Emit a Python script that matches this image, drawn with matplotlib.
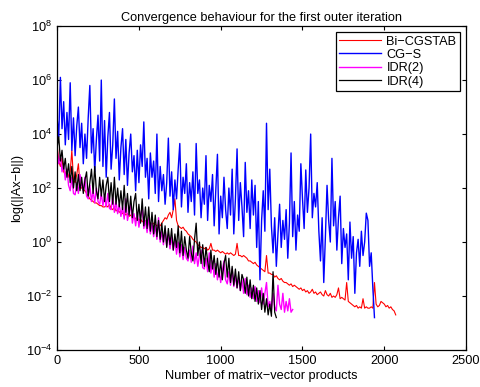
import numpy as np
import matplotlib
matplotlib.use("Agg")
from matplotlib import pyplot as plt
from matplotlib.ticker import NullLocator

plt.rcParams['font.family'] = ['Liberation Sans', 'DejaVu Sans']
plt.rcParams['mathtext.fontset'] = 'custom'
plt.rcParams['mathtext.rm'] = 'Liberation Sans'

# log10 of the residual norm, read every 10 matrix-vector products
bicgstab = [3.6, 3.0, 2.8, 3.1, 2.6, 2.5, 2.7, 2.4, 2.6, 3.4,
            2.3, 2.2, 2.5, 2.9, 2.1, 2.0, 1.95, 1.9, 1.8, 1.7,
            1.6, 1.55, 1.5, 1.45, 1.45, 1.4, 1.35, 1.35, 1.3, 1.3,
            1.35, 1.3, 1.4, 1.25, 1.2, 1.3, 1.15, 1.2, 1.1, 1.15,
            1.05, 1.1, 1.0, 1.05, 0.95, 1.0, 0.9, 0.95, 0.85, 0.9,
            0.8, 0.85, 0.75, 0.8, 0.75, 0.7, 0.75, 0.7, 0.65, 0.7,
            0.65, 0.6, 0.65, 0.6, 0.7, 0.8, 0.9, 0.85, 1.0, 1.1,
            0.9, 1.2, 1.6, 0.8, 0.6, 0.55, 0.5, 0.55, 0.45, 0.4,
            0.3, 0.25, 0.2, 0.1, 0.05, 0.0, -0.1, -0.15, -0.2, -0.2,
            -0.25, -0.2, -0.3, -0.25, -0.05, -0.3, -0.3, -0.35, -0.3, -0.35,
            -0.4, -0.35, -0.4, -0.45, -0.4, -0.45, -0.4, -0.45, -0.5, -0.45,
            -0.05, -0.5, -0.5, -0.55, -0.5, -0.55, -0.6, -0.7, -0.7, -0.75,
            -0.8, -0.75, -0.85, -0.9, -0.95, -1.0, -1.05, -1.1, -0.5, -1.15,
            -1.15, -1.2, -1.2, -1.3, -1.25, -1.35, -1.4, -1.35, -1.45, -1.5,
            -1.5, -1.55, -1.6, -1.55, -1.65, -1.6, -1.65, -1.7, -1.75, -1.7,
            -1.8, -1.75, -1.85, -1.8, -1.9, -1.85, -1.75, -1.9, -1.85, -1.95,
            -1.9, -1.85, -1.95, -2.0, -1.8, -1.95, -2.0, -1.9, -2.05, -2.0,
            -2.05, -1.95, -1.7, -2.1, -2.05, -2.1, -2.15, -1.5, -2.2, -2.25,
            -2.3, -2.35, -2.4, -2.35, -2.45, -2.4, -2.45, -2.1, -2.45, -2.4,
            -2.45, -2.45, -2.4, -2.45, -1.5, -2.3, -2.4, -2.35, -2.2, -2.25,
            -2.3, -2.4, -2.35, -2.45, -2.4, -2.5, -2.55, -2.7]

cgs = [4.6, 3.9, 6.1, 4.2, 5.2, 3.6, 4.8, 3.8, 5.9, 3.4,
       4.6, 3.2, 4.3, 5.0, 3.5, 4.4, 2.9, 4.0, 3.1, 4.6,
       5.8, 3.3, 4.2, 2.6, 3.8, 4.7, 3.0, 6.0, 2.8, 4.5,
       2.4, 3.9, 4.8, 2.7, 3.6, 5.3, 3.1, 4.1, 2.3, 3.5,
       4.2, 2.5, 3.8, 2.1, 3.3, 4.0, 2.6, 3.2, 1.9, 3.4,
       2.2, 3.6, 2.8, 4.45, 2.4, 3.1, 1.6, 3.3, 2.4, 3.0,
       1.8, 4.0, 1.5, 2.8, 1.9, 2.5, 1.4, 2.2, 3.85, 1.7,
       2.6, 1.2, 2.3, 1.6, 2.7, 3.65, 1.3, 2.4, 1.8, 2.9,
       1.1, 2.2, 1.5, 2.6, 1.0, 3.65, 1.8, 2.3, 0.9, 2.0,
       1.4, 3.2, 0.8, 2.1, 1.5, 2.5, 0.6, 1.9, 3.25, 0.3,
       1.7, 0.9, 2.4, 1.2, 0.5, 2.0, 1.0, 2.7, 0.3, 1.6,
       3.45, 0.8, 2.2, 1.3, 0.2, 2.95, 1.1, 1.9, 0.5, 2.3,
       1.0, 2.1, -0.2, 1.5, -1.4, 0.8, 1.9, 0.4, 4.4, 1.2,
       2.7, 0.6, -0.4, 0.9, -0.9, 0.3, 1.4, -0.2, 0.8, 0.1,
       1.2, -0.6, 0.7, 3.3, 0.2, 1.5, -0.3, 1.0, 0.4, 2.9,
       1.6, 0.5, 2.67, 1.1, 2.0, 4.0, 0.9, 1.8, 1.3, 2.2,
       0.4, -0.7, 0.9, -1.5, 0.2, 2.1, 0.8, 0.0, 3.1, 0.6,
       1.5, -0.3, 0.9, 1.7, -0.8, 0.5, -0.2, 0.3, -1.4, 0.74,
       -0.6, 0.2, -1.9, -0.4, 0.1, -0.9, 0.4, -0.5, 0.0, 1.07,
       0.8, -0.9, -0.4, -1.7, -2.8]

idr2 = [3.4, 2.9, 3.2, 2.6, 2.9, 2.3, 2.7, 2.1, 1.9, 2.4,
        1.8, 1.75, 2.2, 1.8, 2.5, 2.1, 1.9, 2.4, 1.7, 1.6,
        2.1, 1.5, 1.9, 1.45, 2.0, 1.5, 1.4, 1.8, 1.35, 1.7,
        1.3, 1.8, 1.25, 1.2, 1.7, 1.1, 1.5, 1.05, 1.4, 0.95,
        1.3, 0.85, 1.6, 0.8, 1.1, 1.4, 0.7, 1.05, 0.6, 1.1,
        0.55, 0.95, 1.3, 0.5, 0.8, 0.35, 0.9, 0.3, 0.7, 0.2,
        0.6, 0.1, 0.9, 0.0, 0.4, -0.1, 0.5, -0.15, 0.3, -0.25,
        0.2, -0.3, 0.1, -0.45, 0.0, -0.55, -0.1, -0.65, -0.2, -0.6,
        -0.7, -0.3, -0.75, -0.15, -0.8, -0.4, -0.9, -0.5, -0.3, -0.95,
        -1.0, -0.6, -1.1, -0.4, -1.15, -0.7, -1.3, -0.8, -1.4, -1.0,
        -1.5, -1.05, -0.7, -1.4, -1.55, -1.1, -1.6, -1.0, -1.65, -1.25,
        -1.7, -1.3, -1.8, -1.4, -1.9, -1.35, -1.95, -1.6, -2.05, -1.7,
        -2.1, -1.65, -2.2, -1.8, -2.25, -1.7, -2.3, -1.9, -1.5, -2.4,
        -2.2, -2.5, -1.9, -2.4, -2.55, -1.6, -2.3, -2.5, -1.9, -2.6,
        -2.2, -2.55, -2.1, -2.6, -2.5]

idr4 = [3.5, 3.9, 3.0, 3.4, 2.7, 3.1, 2.4, 2.9, 2.2, 2.8,
        2.0, 2.6, 1.9, 2.5, 1.9, 2.4, 1.8, 2.3, 2.6, 1.7,
        2.2, 2.7, 1.8, 2.8, 1.9, 1.6, 2.4, 1.7, 2.3, 1.5,
        2.1, 2.4, 1.5, 2.2, 1.4, 2.4, 1.4, 2.0, 1.3, 1.9,
        1.2, 2.1, 1.1, 1.8, 1.0, 1.7, 0.9, 1.5, 1.8, 0.8,
        1.4, 0.7, 1.6, 0.6, 1.3, 0.5, 1.3, 0.4, 1.1, 0.3,
        1.0, 0.2, 0.8, 0.1, 0.7, 0.0, 0.6, -0.2, 0.5, -0.1,
        0.5, -0.3, 0.3, -0.2, 0.6, -0.4, 0.4, -0.5, 0.2, -0.3,
        -0.6, 0.2, -0.4, -0.7, 0.1, 0.7, -0.5, 0.0, -0.8, -0.1,
        -0.9, -0.2, -0.7, -1.1, -0.3, -1.0, -0.5, -1.2, -0.6, -1.3,
        -0.7, -1.4, -0.8, -0.5, -1.3, -0.6, -1.5, -0.9, -1.6, -1.0,
        -1.7, -1.1, -1.8, -1.2, -1.4, -1.9, -1.3, -2.0, -1.4, -2.1,
        -1.6, -2.2, -1.7, -2.3, -1.8, -2.5, -1.9, -2.6, -2.1, -2.7,
        -2.3, -2.75, -1.1, -2.6, -2.8]

step = 10
xticks = [0, 500, 1000, 1500, 2000, 2500]
yticks = [1e-4, 1e-2, 1e0, 1e2, 1e4, 1e6, 1e8]

series = [(bicgstab, 'Bi\u2212CGSTAB', 'red', 0.8),
          (cgs, 'CG\u2212S', 'blue', 1.0),
          (idr2, 'IDR(2)', 'magenta', 1.0),
          (idr4, 'IDR(4)', 'black', 0.9)]

fig = plt.figure(figsize=(4.8, 3.87), dpi=100)
ax = fig.add_axes([0.119, 0.0956, 0.852, 0.837])

for vals, name, col, w in series:
    v = np.array(vals)
    x = np.arange(len(v)) * step
    ax.semilogy(x, 10.0 ** v, color=col, lw=w, label=name)

ax.set_xlim(0, 2500)
ax.set_ylim(1e-4, 1e8)
ax.set_xticks(xticks)
ax.set_yticks(yticks)
ax.yaxis.set_minor_locator(NullLocator())
ax.tick_params(direction='in', top=True, right=True, labelsize=9.2, length=3, width=0.8)
for s in ax.spines.values():
    s.set_linewidth(0.9)

ax.set_title('Convergence behaviour for the first outer iteration', fontsize=9.2, pad=4)
ax.set_xlabel('Number of matrix\u2212vector products', fontsize=9.2, labelpad=2)
ax.set_ylabel('log(||Ax\u2212b||)', fontsize=9.2, labelpad=2)

leg = ax.legend(loc='upper right', fontsize=9.2, fancybox=False, edgecolor='black',
                framealpha=1, handlelength=3.3, handletextpad=0.4, borderpad=0.25,
                labelspacing=0.1, borderaxespad=0.5)
leg.get_frame().set_linewidth(0.9)

fig.savefig('out.png', dpi=100)
